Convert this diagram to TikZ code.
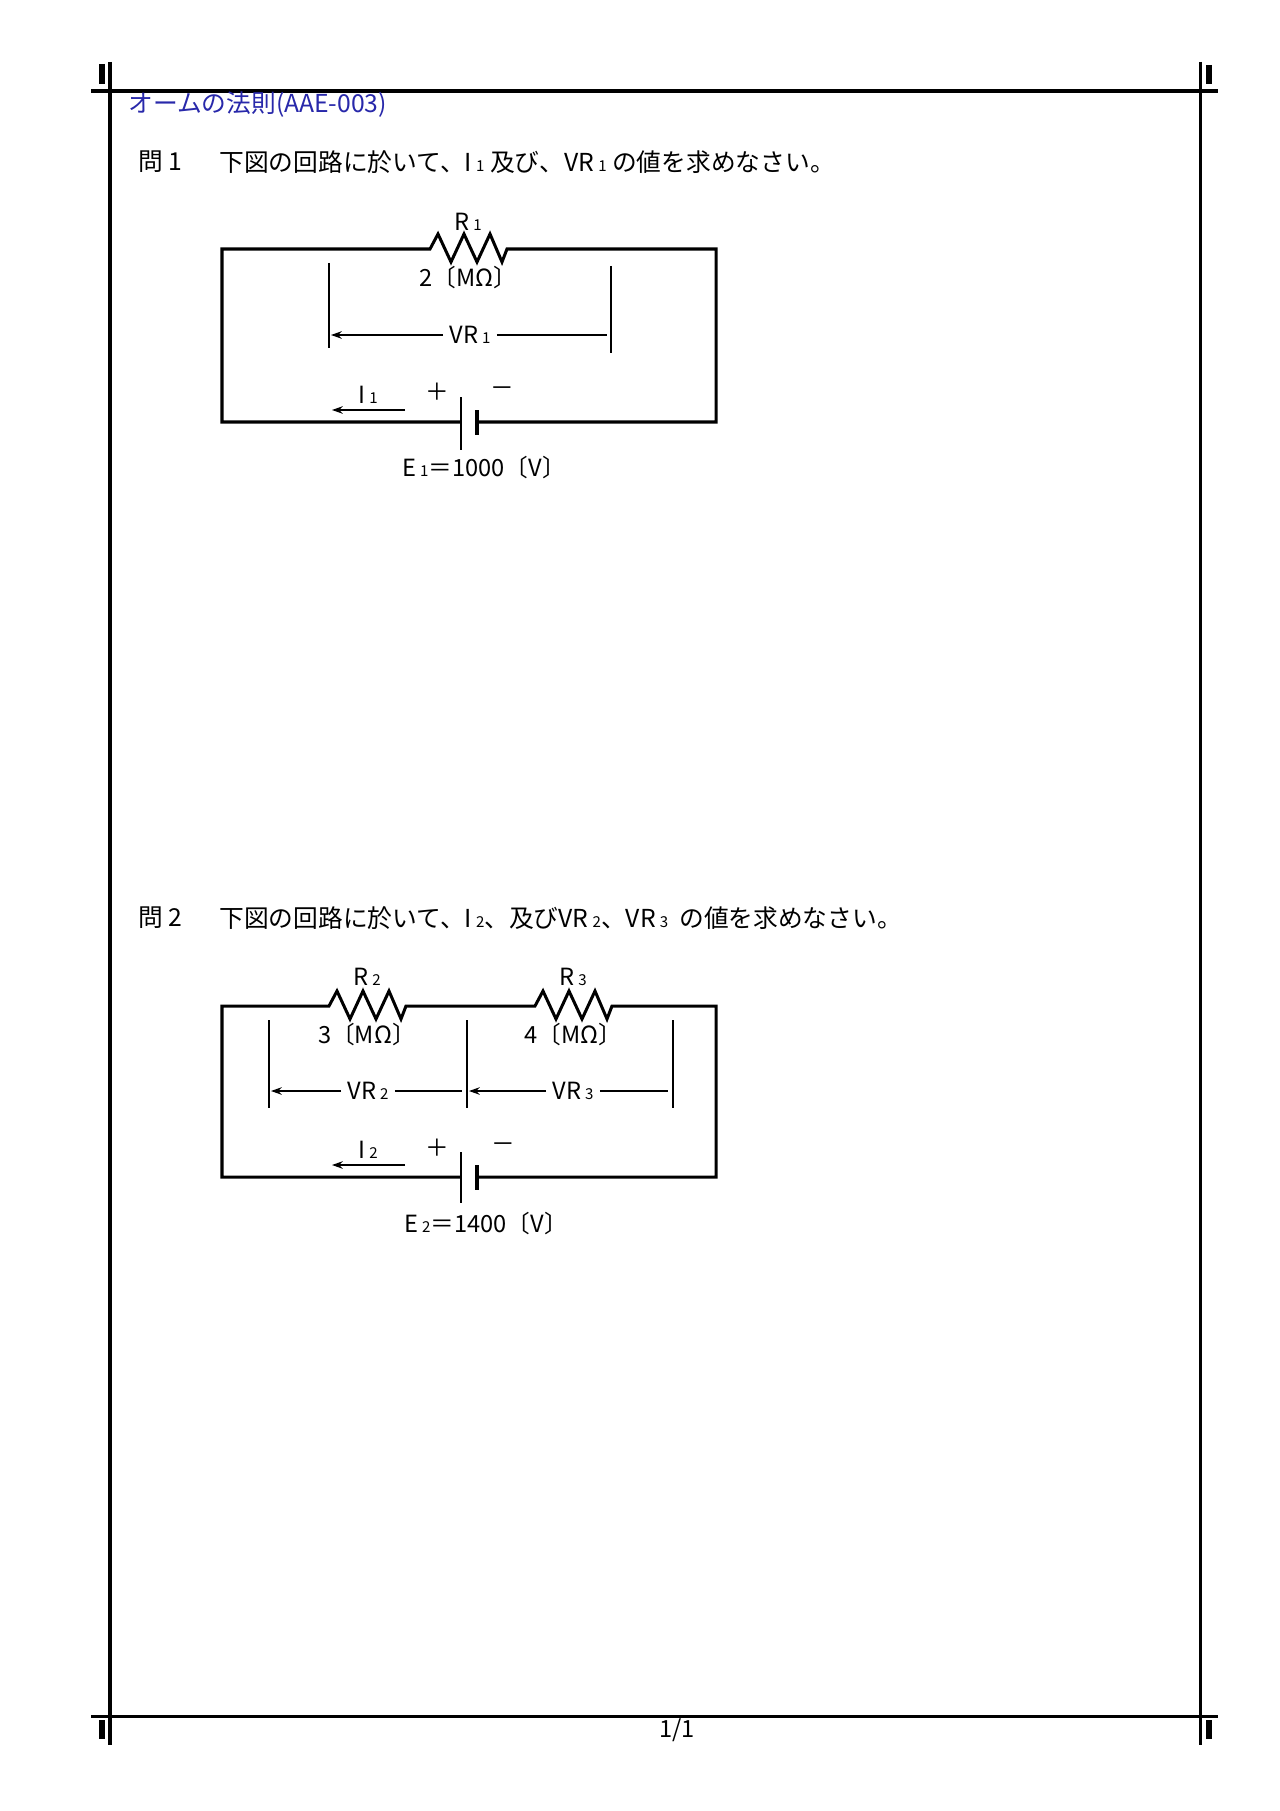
\documentclass[tikz,border=0pt]{standalone}
\usepackage{fontspec}
\setmainfont{Noto Sans CJK JP}
\usetikzlibrary{arrows.meta}
\definecolor{titleblue}{RGB}{40,40,170}
\newcommand{\sub}[1]{\,{\scriptsize #1}}
\tikzset{
  wire/.style={line width=1.4pt},
  vline/.style={line width=0.6pt},
  plate/.style={line width=1pt},
  thickplate/.style={line width=2.2pt},
  frame/.style={line width=1.4pt},
  cornermark/.style={line width=2.6pt},
  lbl/.style={font=\fontsize{11}{13}\selectfont, inner sep=0pt},
  qtext/.style={font=\fontsize{11.5}{14}\selectfont, inner sep=0pt, anchor=west},
  tip/.style={-{Stealth[length=5pt,width=3.5pt]}, line width=0.6pt}
}
\newcommand{\resist}{-- ++(8,-15) -- ++(13,28) -- ++(13,-28) -- ++(13,28) -- ++(13,-28) -- ++(12,28) -- ++(5,-13)}
\begin{document}
\begin{tikzpicture}[x=0.465pt, y=-0.465pt]
	\useasboundingbox (0,0) rectangle (1280,1811);
	% page frame
	\draw[frame] (91,91) -- (1218,91);
	\draw[frame] (91,1716) -- (1218,1716);
	\draw[frame] (110,62) -- (110,1745);
	\draw[frame] (1200,62) -- (1200,1745);
	\draw[cornermark] (102,64) -- (102,84);
	\draw[cornermark] (1209,65) -- (1209,84);
	\draw[cornermark] (102,1720) -- (102,1739);
	\draw[cornermark] (1209,1720) -- (1209,1739);
	\node[lbl] (page) at (677,1730) {1/1};
	\node[qtext, text=titleblue] (title) at (128,105) {オームの法則(AAE-003)};

	% question 1
	\node[qtext] (q1num) at (138,162) {問 1};
	\node[qtext] (q1)    at (219,162) {下図の回路に於いて、I\sub{1} 及び、VR\sub{1} の値を求めなさい。};
	\coordinate (a1) at (222,249);  \coordinate (b1) at (716,249);
	\coordinate (c1) at (716,422);  \coordinate (d1) at (222,422);
	\coordinate (r1in) at (430,249); \coordinate (r1out) at (507,249);
	\coordinate (e1p) at (461,422);  \coordinate (e1n) at (477,422);
	\draw[wire] (e1p) -- (d1) -- (a1) -- (r1in) \resist -- (b1) -- (c1) -- (e1n);
	\draw[plate]      (461,397) -- (461,450);
	\draw[thickplate] (477,410) -- (477,435);
	\node[lbl] (r1)  at (468,222) {R\sub{1}};
	\node[lbl] (r1v) at (468,278) {2〔MΩ〕};
	\draw[vline] (329,263) -- (329,348);
	\draw[vline] (611,266) -- (611,353);
	\node[lbl] (vr1) at (470,335) {VR\sub{1}};
	\coordinate (vr1l) at (331,335); \coordinate (vr1r) at (607,335);
	\draw[tip] (vr1.west) ++(-6,0) -- (vr1l);
	\draw[vline] (vr1.east) ++(6,0) -- (vr1r);
	\node[lbl] (i1) at (368,395) {I\sub{1}};
	\coordinate (i1a) at (405,410); \coordinate (i1b) at (332,410);
	\draw[tip] (i1a) -- (i1b);
	\node[lbl] (plus1)  at (437,392) {＋};
	\node[lbl] (minus1) at (502,392) {－};
	\node[lbl] (e1) at (484,468) {E\sub{1}＝1000〔V〕};

	% question 2
	\node[qtext] (q2num) at (138,918) {問 2};
	\node[qtext] (q2)    at (219,918) {下図の回路に於いて、I\sub{2}、及びVR\sub{2}、VR\sub{3}\ \ の値を求めなさい。};
	\coordinate (a2) at (222,1006);  \coordinate (b2) at (716,1006);
	\coordinate (c2) at (716,1177);  \coordinate (d2) at (222,1177);
	\coordinate (r2in) at (329,1006); \coordinate (r3in) at (535,1006);
	\coordinate (e2p) at (461,1177);  \coordinate (e2n) at (477,1177);
	\draw[wire] (e2p) -- (d2) -- (a2) -- (r2in) \resist -- (r3in) \resist -- (b2) -- (c2) -- (e2n);
	\draw[plate]      (461,1152) -- (461,1203);
	\draw[thickplate] (477,1165) -- (477,1190);
	\node[lbl] (r2)  at (367,977)  {R\sub{2}};
	\node[lbl] (r2v) at (367,1034) {3〔MΩ〕};
	\node[lbl] (r3)  at (573,977)  {R\sub{3}};
	\node[lbl] (r3v) at (573,1034) {4〔MΩ〕};
	\draw[vline] (269,1020) -- (269,1108);
	\draw[vline] (467,1020) -- (467,1108);
	\draw[vline] (673,1020) -- (673,1108);
	\node[lbl] (vr2) at (368,1091) {VR\sub{2}};
	\node[lbl] (vr3) at (573,1091) {VR\sub{3}};
	\coordinate (vr2l) at (271,1091); \coordinate (vr2r) at (462,1091);
	\coordinate (vr3l) at (469,1091); \coordinate (vr3r) at (668,1091);
	\draw[tip] (vr2.west) ++(-6,0) -- (vr2l);
	\draw[vline] (vr2.east) ++(6,0) -- (vr2r);
	\draw[tip] (vr3.west) ++(-6,0) -- (vr3l);
	\draw[vline] (vr3.east) ++(6,0) -- (vr3r);
	\node[lbl] (i2) at (368,1150) {I\sub{2}};
	\coordinate (i2a) at (405,1165); \coordinate (i2b) at (332,1165);
	\draw[tip] (i2a) -- (i2b);
	\node[lbl] (plus2)  at (437,1148) {＋};
	\node[lbl] (minus2) at (503,1148) {－};
	\node[lbl] (e2) at (486,1223) {E\sub{2}＝1400〔V〕};
\end{tikzpicture}
\end{document}
